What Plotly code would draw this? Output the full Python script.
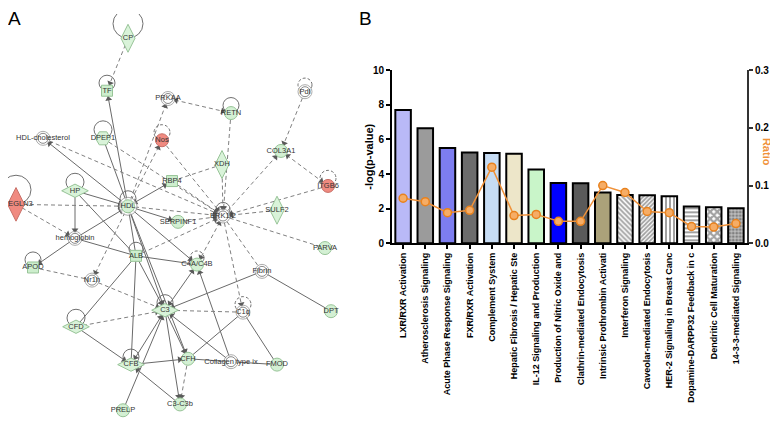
import math
import plotly.graph_objects as go

# ---------------- Panel B data ----------------
pathways = ["LXR/RXR Activation", "Atherosclerosis Signaling", "Acute Phase Response Signaling",
            "FXR/RXR Activation", "Complement System", "Hepatic Fibrosis / Hepatic Ste",
            "IL-12 Signaling and Production", "Production of Nitric Oxide and",
            "Clathrin-mediated Endocytosis", "Intrinsic Prothrombin Activati",
            "Interferon Signaling", "Caveolar-mediated Endocytosis",
            "HER-2 Signaling in Breast Canc", "Dopamine-DARPP32 Feedback in c",
            "Dendritic Cell Maturation", "14-3-3-mediated Signaling"]
neg_log_p = [7.7, 6.65, 5.5, 5.25, 5.22, 5.17, 4.27, 3.48, 3.47, 2.94, 2.79, 2.78, 2.72, 2.12, 2.08, 2.02]
ratio = [0.078, 0.072, 0.053, 0.057, 0.132, 0.048, 0.050, 0.038, 0.038, 0.100, 0.088, 0.055,
         0.053, 0.029, 0.028, 0.034]
left_ticks = [0, 2, 4, 6, 8, 10]
right_ticks = [0.0, 0.1, 0.2, 0.3]

# ---------------- Panel A data (network) ----------------
node_names = ["CP", "TF", "PRKAA", "RETN", "HDL-cholesterol", "DPEP1", "Nos", "XDH", "RBP4", "HP",
              "EGLN3", "HDL", "ERK1/2", "SERPINF1", "hemoglobin", "ALB", "C4A/C4B", "APOD", "Nr1h",
              "C3", "C1q", "CFD", "CFB", "CFH", "Collagen type ix", "C3-C3b", "PRELP", "SULF2",
              "PARVA", "Fibrin", "DPT", "FMOD", "Pdl", "COL3A1", "ITGB6"]
node_x = [128, 107, 168, 231, 43, 103, 162, 222, 172, 75, 16, 128, 223, 178, 75, 136, 197, 33, 92,
          165, 243, 76, 131, 188, 231, 180, 123, 277, 325, 262, 331, 277, 305, 281, 328]
node_y = [33, 87, 95, 110, 136, 136, 138, 163, 180, 190, 204, 206, 216, 222, 239, 257, 266, 269, 282,
          313, 315, 330, 369, 363, 366, 410, 416, 210, 249, 273, 314, 369, 88, 149, 185]
node_kind = ["gdt", "gt", "d", "g", "d", "gh", "r", "gdt", "gt", "gdw",
             "rdt", "g2", "d", "g", "d", "gt", "g", "gt", "d",
             "gdw", "d", "gdw", "gdw", "g", "d", "g", "g", "gdt",
             "g", "d", "g", "g", "d", "g", "r"]

edge_src = ["HDL", "HDL", "DPEP1", "HP", "HP", "HP", "hemoglobin", "hemoglobin", "hemoglobin", "HDL",
            "HDL", "HDL", "HDL", "HDL", "ALB", "ALB", "ALB", "CFD", "C3", "C3", "CFB", "C3", "CFD",
            "CFB", "PRELP", "C3-C3b", "Collagen type ix", "CFH", "Collagen type ix", "CFH", "Fibrin",
            "Fibrin", "C1q", "Collagen type ix", "HDL",
            "CP", "HDL", "HDL", "PRKAA", "RETN", "XDH", "RBP4", "RBP4", "Nos", "EGLN3", "EGLN3", "HDL",
            "HDL", "Nr1h", "APOD", "CFD", "C1q", "ERK1/2", "ERK1/2", "ALB", "ERK1/2", "ERK1/2",
            "SULF2", "ITGB6", "ERK1/2", "Pdl", "COL3A1", "CFH", "SERPINF1", "HDL-cholesterol", "DPEP1"]
edge_tgt = ["TF", "HDL-cholesterol", "HDL", "HDL", "hemoglobin", "ALB", "HDL", "APOD", "ALB",
            "SERPINF1", "C4A/C4B", "ALB", "C3", "RBP4", "C3", "CFB", "C4A/C4B", "ALB", "C4A/C4B",
            "CFH", "C3", "C3-C3b", "CFB", "CFH", "C3", "CFB", "C3", "Collagen type ix", "C4A/C4B",
            "C1q", "C3", "DPT", "FMOD", "FMOD", "CFH",
            "TF", "PRKAA", "Nos", "RETN", "ERK1/2", "ERK1/2", "XDH", "ERK1/2", "ERK1/2", "HDL",
            "hemoglobin", "ERK1/2", "Nr1h", "C3", "Nr1h", "C3", "C3", "C1q", "C4A/C4B", "ERK1/2",
            "Fibrin", "PARVA", "ERK1/2", "ERK1/2", "COL3A1", "COL3A1", "ITGB6", "C3-C3b", "ERK1/2",
            "ERK1/2", "ERK1/2"]
edge_dashed = [0] * 35 + [1] * 31
edge_arrow = [1, 1, 0, 1, 1, 0, 1, 1, 0, 1, 1, 0, 1, 2, 1, 0, 0, 0, 2, 1, 2, 1, 1, 1, 1, 1, 1, 0, 1,
              0, 1, 0, 0, 0, 1,
              1, 1, 1, 2, 1, 1, 0, 1, 1, 1, 1, 1, 1, 1, 0, 1, 1, 1, 2, 1, 0, 0, 1, 1, 1, 1, 2, 1, 1,
              1, 1]

loop_nodes = ["CP", "TF", "RETN", "DPEP1", "Nos", "HP", "EGLN3", "HDL", "ERK1/2", "ALB", "C4A/C4B",
              "APOD", "C3", "C1q", "CFD", "CFB", "Pdl", "ITGB6"]
loop_r = [15, 8, 8, 9, 8, 9, 15, 8, 7, 7, 7, 8, 8, 8, 9, 8, 7, 8]
loop_dashed = [0, 0, 0, 0, 1, 0, 0, 0, 0, 0, 1, 0, 0, 1, 0, 0, 1, 1]

# ---------------- figure geometry ----------------
# the page body adds an 8px margin, so the figure is drawn 8px smaller and
# page coordinates are converted into figure coordinates
OFF = 8
PW, PH = 778, 425
W, H = PW - OFF, PH - OFF
def px(x):  # page x -> paper fraction
    return (x - OFF) / W
def py(y):  # page y -> paper fraction
    return 1 - (y - OFF) / H

fig = go.Figure()
pos = {n: (x, y) for n, x, y in zip(node_names, node_x, node_y)}

# edges
for dashed, col in [(0, "#6a6a6a"), (1, "#808080")]:
    xs, ys = [], []
    for s, t, d in zip(edge_src, edge_tgt, edge_dashed):
        if d != dashed:
            continue
        xs += [pos[s][0], pos[t][0], None]
        ys += [pos[s][1], pos[t][1], None]
    fig.add_trace(go.Scatter(x=xs, y=ys, mode="lines", xaxis="x2", yaxis="y2",
                             line=dict(color=col, width=1, dash="4px,3px" if dashed else "solid"),
                             hoverinfo="skip", showlegend=False))

# arrowheads
ax_, ay_, aang = [], [], []
def add_head(a, b):
    (x0, y0), (x1, y1) = pos[a], pos[b]
    dx, dy = x1 - x0, y1 - y0
    L = math.hypot(dx, dy) or 1
    off = 8.5
    ax_.append(x1 - dx / L * off)
    ay_.append(y1 - dy / L * off)
    aang.append(math.degrees(math.atan2(dx, -dy)))
for s, t, a in zip(edge_src, edge_tgt, edge_arrow):
    if a >= 1:
        add_head(s, t)
    if a == 2:
        add_head(t, s)
fig.add_trace(go.Scatter(x=ax_, y=ay_, mode="markers", xaxis="x2", yaxis="y2",
                         marker=dict(symbol="triangle-up", size=6, angle=aang, color="#5a5a5a",
                                     line=dict(width=0)),
                         hoverinfo="skip", showlegend=False))

# self loops
shapes = []
for n, r, d in zip(loop_nodes, loop_r, loop_dashed):
    x, y = pos[n]
    cy = y - r
    shapes.append(dict(type="circle", xref="x2", yref="y2", layer="below",
                       x0=x - r, x1=x + r, y0=cy - r, y1=cy + r,
                       line=dict(color="#707070", width=1, dash="3px,2px" if d else "solid")))

# nodes
kind_style = {
    "g": dict(symbol="circle", size=13, color="#d3f0d3", line=dict(color="#98c498", width=1)),
    "g2": dict(symbol="circle", size=13, color="#d3f0d3", line=dict(color="#98c498", width=1)),
    "r": dict(symbol="circle", size=13, color="#f08a80", line=dict(color="#c87068", width=1)),
    "d": dict(symbol="circle", size=10, color="white", line=dict(color="#8a8a8a", width=1)),
    "gdt": dict(symbol="diamond-tall", size=20, color="#d9f3d9", line=dict(color="#98c498", width=1)),
    "gdw": dict(symbol="diamond-wide", size=19, color="#d9f3d9", line=dict(color="#98c498", width=1)),
    "rdt": dict(symbol="diamond-tall", size=24, color="#f08a80", line=dict(color="#c87068", width=1)),
    "gt": dict(symbol="square", size=11, color="#cdeecd", line=dict(color="#98c498", width=1)),
    "gh": dict(symbol="hexagon2", size=15, color="#d9f3d9", line=dict(color="#98c498", width=1)),
}
ring_x = [x for x, k in zip(node_x, node_kind) if k in ("d", "g2")]
ring_y = [y for y, k in zip(node_y, node_kind) if k in ("d", "g2")]
ring_s = [14 if k == "d" else 18 for k in node_kind if k in ("d", "g2")]
fig.add_trace(go.Scatter(x=ring_x, y=ring_y, mode="markers", xaxis="x2", yaxis="y2", cliponaxis=False,
                         marker=dict(symbol="circle", size=ring_s, color="white",
                                     line=dict(color="#8a8a8a", width=1)),
                         hoverinfo="skip", showlegend=False))
for k, st in kind_style.items():
    xs = [x for x, kk in zip(node_x, node_kind) if kk == k]
    ys = [y for y, kk in zip(node_y, node_kind) if kk == k]
    if xs:
        fig.add_trace(go.Scatter(x=xs, y=ys, mode="markers", xaxis="x2", yaxis="y2",
                                 cliponaxis=False, marker=st, hoverinfo="skip", showlegend=False))
# labels centred on their nodes, kept inside the visible page
label_x = [max(x, OFF + 2 + 2.1 * len(n)) for x, n in zip(node_x, node_names)]
fig.add_trace(go.Scatter(x=label_x, y=node_y, mode="text", text=node_names, xaxis="x2", yaxis="y2",
                         cliponaxis=False,
                         textfont=dict(family="Arial", size=7.5, color="#333333"),
                         hoverinfo="skip", showlegend=False))

# ---------------- Panel B ----------------
bar_fill = ["#b9b9f7", "#9b9b9b", "#7d7df0", "#6c6c6c", "#c6dcf4", "#ede6c9", "#c9f5c9", "#0000ff",
            "#5a5a5a", "#aba27a", "white", "white", "white", "white", "white", "#bdbdbd"]
bar_shape = ["", "", "", "", "", "", "", "", "", "", "\\", "/", "|", "-", "x", "."]
bar_fg = ["black"] * 15 + ["#333333"]
bar_sol = [0.5] * 10 + [0.55, 0.6, 0.5, 0.5, 0.7, 0.5]
bar_psize = [4] * 10 + [3.5, 3, 4, 4, 5, 3.5]
fig.add_trace(go.Bar(x=pathways, y=neg_log_p, xaxis="x", yaxis="y",
                     marker=dict(color=bar_fill, line=dict(color="black", width=2),
                                 pattern=dict(shape=bar_shape, fgcolor=bar_fg, size=bar_psize,
                                              solidity=bar_sol, fillmode="overlay")),
                     showlegend=False, hoverinfo="skip"))
fig.add_trace(go.Scatter(x=pathways, y=ratio, xaxis="x", yaxis="y3", mode="lines+markers",
                         line=dict(color="#f0923a", width=1.5),
                         marker=dict(symbol="circle", size=8, color="#f6ad66",
                                     line=dict(color="#e8821e", width=1.5)),
                         showlegend=False, hoverinfo="skip"))

bold = dict(family="Arial", weight="bold", color="black")
ann = dict(xref="paper", yref="paper", showarrow=False, xanchor="center", yanchor="middle")
fig.update_layout(
    width=W, height=H, margin=dict(l=0, r=0, t=0, b=0),
    paper_bgcolor="white", plot_bgcolor="rgba(0,0,0,0)", bargap=0.3,
    shapes=shapes,
    xaxis=dict(domain=[px(392), px(747)], anchor="y", type="category", range=[-0.5, 15.5],
               showline=True, linewidth=2, linecolor="black", ticks="outside", ticklen=4,
               tickwidth=1.5, tickcolor="black", tickangle=-90, showgrid=False,
               tickfont=dict(size=9, **bold)),
    yaxis=dict(domain=[py(244), py(66)], anchor="x", range=[0, 10], tickvals=left_ticks,
               showline=True, linewidth=2, linecolor="black", ticks="outside", ticklen=4,
               tickwidth=1.5, tickcolor="black", showgrid=False, zeroline=False,
               tickfont=dict(size=10, **bold)),
    yaxis3=dict(domain=[py(244), py(66)], anchor="x", overlaying="y", side="right", range=[0, 0.3],
                tickvals=right_ticks, tickformat=".1f", showline=True, linewidth=2,
                linecolor="#333333", ticks="outside", ticklen=4, tickwidth=1.5, tickcolor="#333333",
                showgrid=False, zeroline=False, tickfont=dict(size=10, **bold)),
    xaxis2=dict(domain=[0, px(350)], anchor="y2", range=[OFF, 350], visible=False),
    yaxis2=dict(domain=[0, 1], anchor="x2", range=[PH, OFF], visible=False),
    annotations=[
        dict(text="A", x=px(14), y=py(13), font=dict(family="Arial", size=19, color="black"), **ann),
        dict(text="B", x=px(365), y=py(13), font=dict(family="Arial", size=19, color="black"), **ann),
        dict(text="-log(p-value)", x=px(369), y=py(155), textangle=-90,
             font=dict(size=11, **bold), **ann),
        dict(text="Ratio", x=px(767), y=py(150), textangle=90,
             font=dict(family="Arial", size=11, weight="bold", color="#f0923a"), **ann),
    ],
)
fig.write_html("out.html")
